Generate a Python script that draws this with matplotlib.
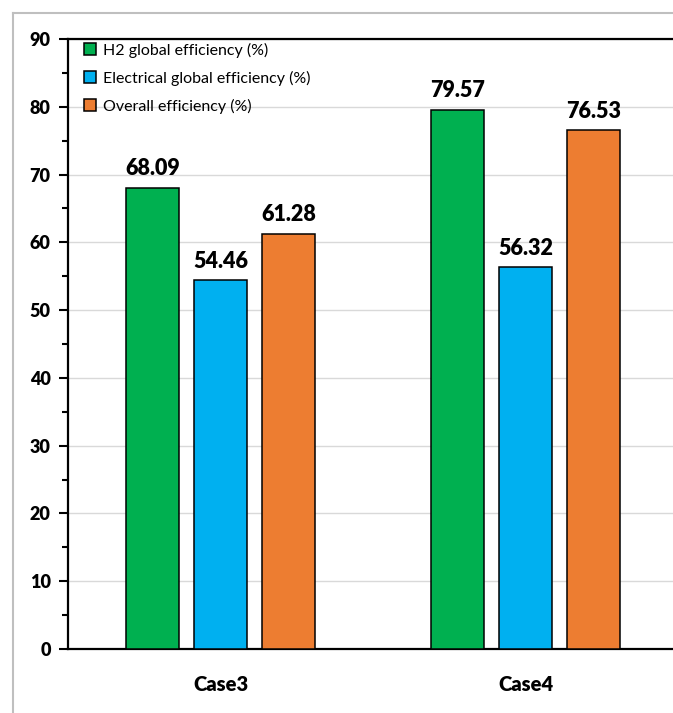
import matplotlib
matplotlib.use("Agg")
import matplotlib.pyplot as plt
import numpy as np
from matplotlib.lines import Line2D
from matplotlib.ticker import MultipleLocator

# Efficiency values per case
cases = ["Case3", "Case4"]
h2_eff = [68.09, 79.57]
elec_eff = [54.46, 56.32]
overall_eff = [61.28, 76.53]
series_names = ["H2 global efficiency (%)",
                "Electrical global efficiency (%)",
                "Overall efficiency (%)"]
colors = ["#00B050", "#00B0F0", "#ED7D31"]

plt.rcParams["font.family"] = ["Lato", "DejaVu Sans"]
BOLD = "heavy"

W, H = 673, 713
fig = plt.figure(figsize=(W / 100, H / 100), dpi=100)
fig.patch.set_facecolor("white")

# Light gray chart-area frame (left and top edges)
fig.add_artist(Line2D([13 / W, 13 / W], [0, 1 - 13 / H], color="#BFBFBF", lw=1.5))
fig.add_artist(Line2D([13 / W, 1], [1 - 13 / H, 1 - 13 / H], color="#BFBFBF", lw=1.5))

# Plot area runs slightly past the right edge of the figure
ax = fig.add_axes([68 / W, 64 / H, 610 / W, 610 / H])

x = np.arange(len(cases))
width = 0.174
step = 0.223
all_series = [h2_eff, elec_eff, overall_eff]
for i, (vals, name, col) in enumerate(zip(all_series, series_names, colors)):
    bars = ax.bar(x + (i - 1) * step, vals, width, color=col, edgecolor="black",
                  linewidth=1.1, label=name, zorder=3)
    for b, v in zip(bars, vals):
        ax.annotate(f"{v:.2f}", (b.get_x() + b.get_width() / 2, v),
                    xytext=(0, 6), textcoords="offset points",
                    ha="center", va="bottom", fontsize=15.5, fontweight=BOLD)

ax.set_xlim(-0.5, 1.5)
ax.set_ylim(0, 90)
ax.yaxis.set_major_locator(MultipleLocator(10))
ax.yaxis.set_minor_locator(MultipleLocator(5))
ax.set_xticks(x)
ax.set_xticklabels(cases, fontsize=14.5, fontweight=BOLD)
ax.tick_params(axis="x", length=0, pad=19)
ax.tick_params(axis="y", which="major", length=6.5, width=1.5, pad=6,
               labelsize=13, direction="out")
ax.tick_params(axis="y", which="minor", length=4.3, width=1.5, direction="out")
for lab in ax.get_yticklabels():
    lab.set_fontweight(BOLD)

ax.grid(axis="y", color="#D9D9D9", linewidth=1, zorder=0)
ax.set_axisbelow(True)
for side in ["left", "bottom", "top"]:
    ax.spines[side].set_linewidth(1.6)
    ax.spines[side].set_color("black")
ax.spines["right"].set_visible(False)

ax.legend(loc="upper left", bbox_to_anchor=(0.01, 1.01), frameon=False,
          fontsize=11.5, handlelength=0.8, handleheight=0.8, handletextpad=0.4,
          labelspacing=0.82, borderaxespad=0.2)

fig.savefig("out.png", dpi=100, facecolor="white")
